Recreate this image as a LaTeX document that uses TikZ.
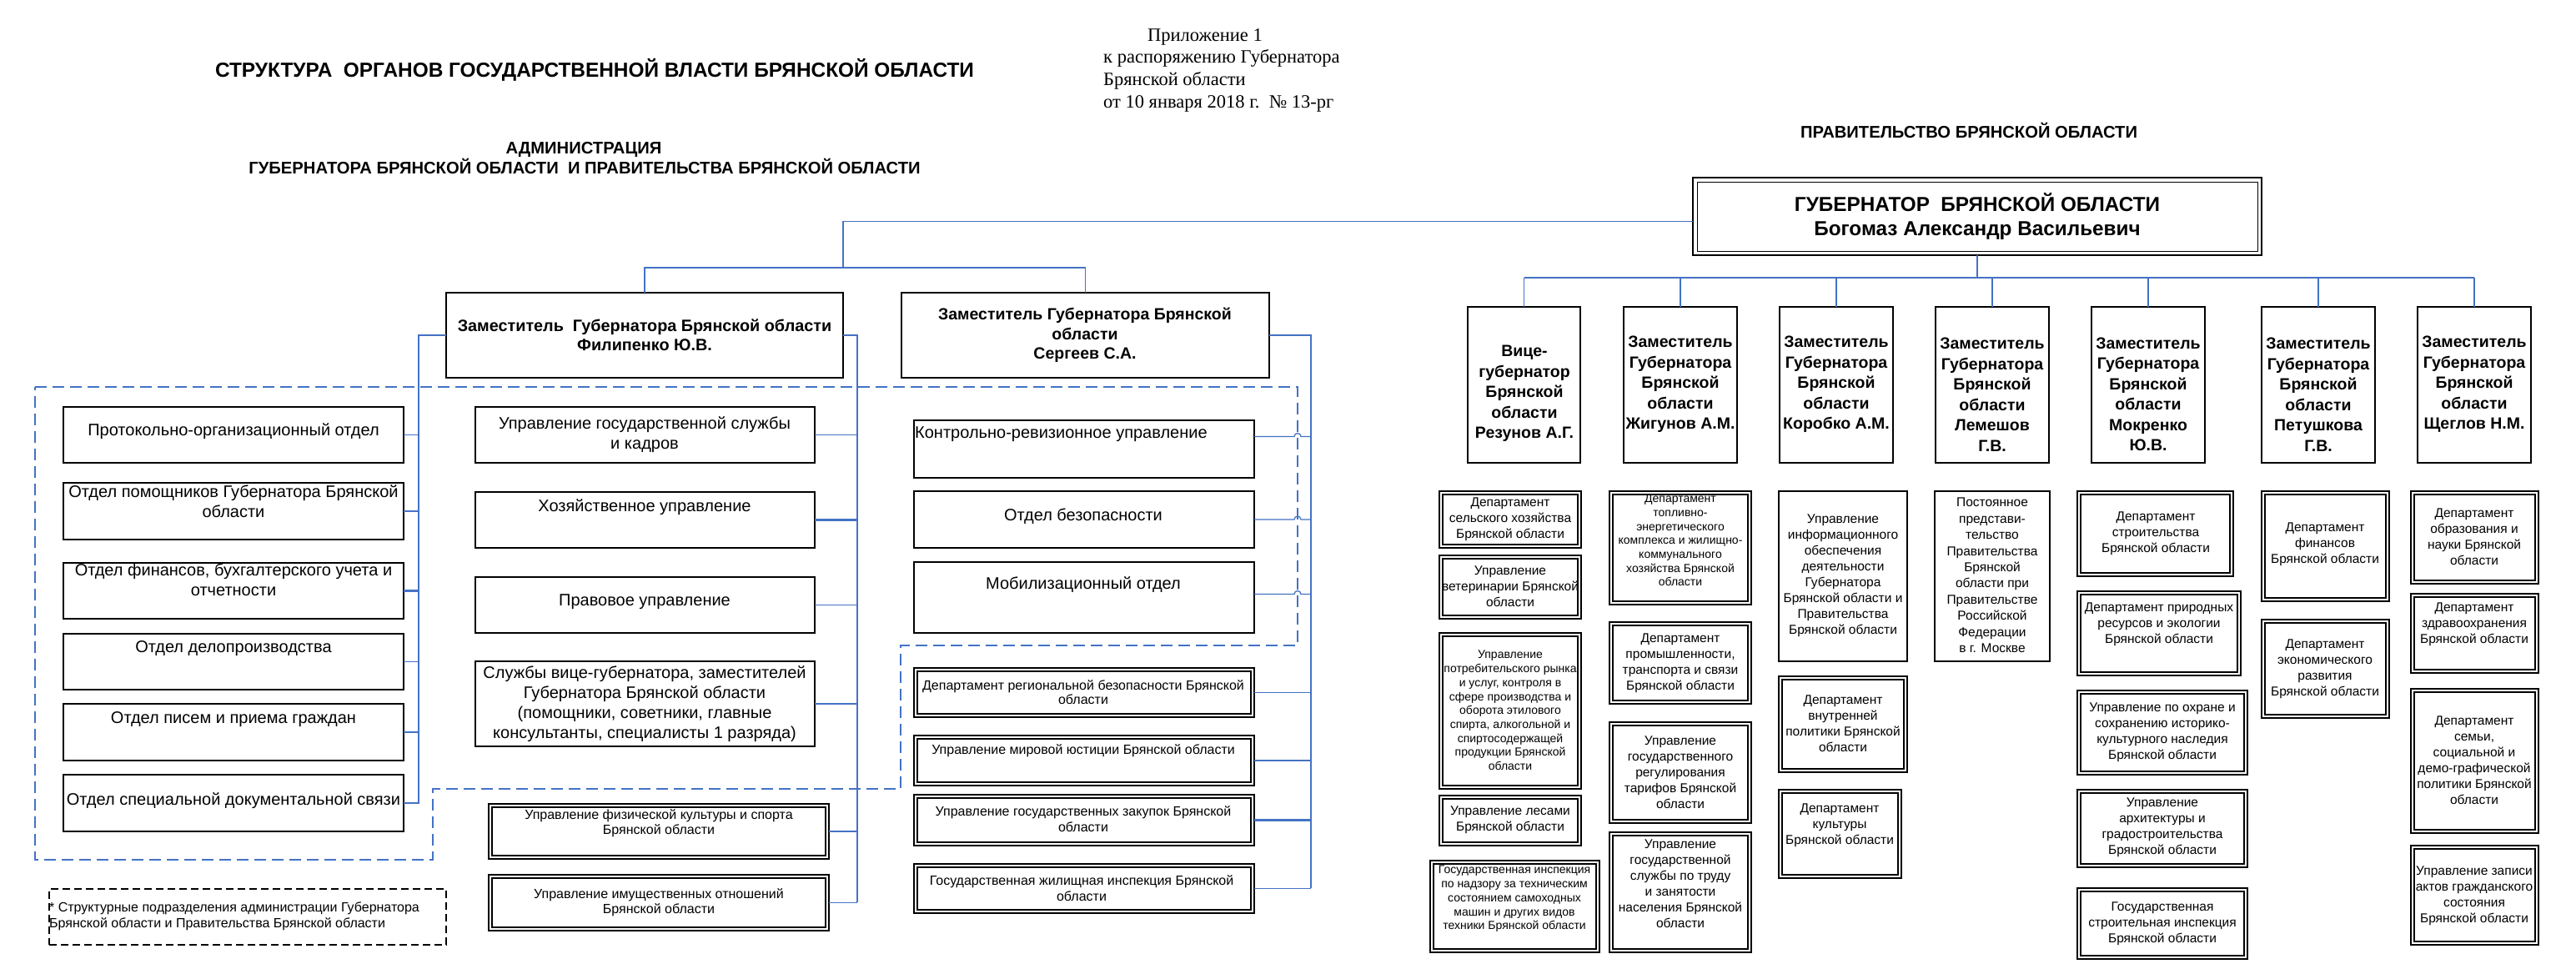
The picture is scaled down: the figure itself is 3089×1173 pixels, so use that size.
\documentclass[tikz,border=0pt]{standalone}
\usepackage{fontspec}
\setmainfont{Liberation Sans}
\newfontfamily\serifru{Liberation Serif}
\usetikzlibrary{fit,calc}
\definecolor{lnk}{HTML}{4472C4}
\newcommand\fsz[2]{\fontsize{#1}{#2}\selectfont}
\tikzset{
  box/.style={draw=black, line width=1.6pt, inner sep=0pt, outer sep=0pt},
  dbox/.style={box, line width=1.4pt, path picture={\draw[line width=2.6pt] ([shift={(4pt,-4pt)}]path picture bounding box.north west) rectangle ([shift={(-4pt,4pt)}]path picture bounding box.south east);}},
  gbox/.style={box, line width=2.6pt, path picture={\draw[line width=1pt] ([shift={(5pt,-5pt)}]path picture bounding box.north west) rectangle ([shift={(-5pt,5pt)}]path picture bounding box.south east);}},
  txt/.style={inner sep=0pt, align=center, text=black},
  one/.style={text height=0.72em, text depth=0.2em},
  conn/.style={draw=lnk, line width=1.3pt},
  connb/.style={draw=lnk, line width=2.6pt},
  dashline/.style={draw=lnk, line width=1.3pt, dash pattern=on 14pt off 7pt},
  hd/.style={txt, font=\bfseries\fsz{20.2}{24}},
  admL/.style={txt, font=\fsz{20}{24}},
  small/.style={txt, font=\fsz{16}{18.5}},
  dep/.style={txt, font=\fsz{15.5}{19}},
  depS/.style={txt, font=\fsz{14}{16.7}},
  dept/.style={txt, font=\bfseries\fsz{19.5}{24.5}},
  appx/.style={txt, one, font=\serifru\fsz{22.5}{27}},
}
\begin{document}
\begin{tikzpicture}[x=1pt,y=-1pt]
\fill[white] (0,0) rectangle (3089,1173);
\useasboundingbox (0,0) rectangle (3089,1173);

% ---------- headings ----------
\node[txt, one, font=\bfseries\fsz{24.4}{28}] (title) at (713,90) {СТРУКТУРА\ \ ОРГАНОВ ГОСУДАРСТВЕННОЙ ВЛАСТИ БРЯНСКОЙ ОБЛАСТИ};
\node[appx] (app1) at (1445,47) {Приложение 1};
\node[appx, anchor=west] (app2) at (1323,73) {к распоряжению Губернатора};
\node[appx, anchor=west] (app3) at (1323,100) {Брянской области};
\node[appx, anchor=west] (app4) at (1323,127) {от 10 января 2018 г.\ \ №\ 13-рг};
\node[hd, one] (adm1) at (700,182) {АДМИНИСТРАЦИЯ};
\node[hd, one] (adm2) at (701,206) {ГУБЕРНАТОРА БРЯНСКОЙ ОБЛАСТИ\ \ И ПРАВИТЕЛЬСТВА БРЯНСКОЙ ОБЛАСТИ};
\node[hd, one] (prav) at (2361,163) {ПРАВИТЕЛЬСТВО БРЯНСКОЙ ОБЛАСТИ};

% ---------- dashed outline of administration ----------
\draw[dashline] (42,464) -- (1556,464) -- (1556,774) -- (1080,774) -- (1080,946) -- (519,946) -- (519,1031) -- (42,1031) -- cycle;

% ---------- governor ----------
\node[gbox, fit={(2030,213) (2712,306)}] (gov) {};
\node[txt, font=\bfseries\fsz{24.3}{29}] (govt) at (2371,260) {ГУБЕРНАТОР\ \ БРЯНСКОЙ ОБЛАСТИ\\Богомаз Александр Васильевич};

% ---------- administration deputies ----------
\node[box, line width=2pt, fit={(535,351) (1011,453)}] (fil) {};
\node[txt, font=\bfseries\fsz{19.8}{23}] (filt) at (773,402) {Заместитель\ \ Губернатора Брянской области\\Филипенко Ю.В.};
\node[box, line width=2pt, fit={(1081,351) (1522,453)}] (ser) {};
\node[txt, font=\bfseries\fsz{19.5}{23.5}] (sert) at (1301,402) {Заместитель Губернатора Брянской\\области\\Сергеев С.А.};

% ---------- left column ----------
\node[box, fit={(76,488) (484,555)}] (lA) {};
\node[admL, one] (lAt) at (280,520) {Протокольно-организационный отдел};
\node[box, fit={(76,579) (484,647)}] (lB) {};
\node[admL] (lBt) at (280,601) {Отдел помощников Губернатора Брянской\\области};
\node[box, fit={(76,675) (484,742)}] (lC) {};
\node[admL] (lCt) at (280,695) {Отдел финансов, бухгалтерского учета и\\отчетности};
\node[box, fit={(76,760) (484,827)}] (lD) {};
\node[admL, one] (lDt) at (280,780) {Отдел делопроизводства};
\node[box, fit={(76,844) (484,912)}] (lE) {};
\node[admL, one] (lEt) at (280,865) {Отдел писем и приема граждан};
\node[box, fit={(76,929) (484,997)}] (lF) {};
\node[admL, one] (lFt) at (280,963) {Отдел специальной документальной связи};

% ---------- middle column ----------
\node[box, fit={(570,488) (977,555)}] (mA) {};
\node[admL] (mAt) at (773,521) {Управление государственной службы\\и кадров};
\node[box, fit={(570,590) (977,657)}] (mB) {};
\node[admL, one] (mBt) at (773,611) {Хозяйственное управление};
\node[box, fit={(570,692) (977,759)}] (mC) {};
\node[admL, one] (mCt) at (773,724) {Правовое управление};
\node[box, fit={(570,793) (977,895)}] (mD) {};
\node[admL] (mDt) at (773,844) {Службы вице-губернатора, заместителей\\Губернатора Брянской области\\(помощники, советники, главные\\консультанты, специалисты 1 разряда)};
\node[dbox, fit={(586,964) (994,1030)}] (mE) {};
\node[small] (mEt) at (790,987) {Управление физической культуры и спорта\\Брянской области};
\node[dbox, fit={(586,1049) (994,1116)}] (mF) {};
\node[small] (mFt) at (790,1082) {Управление имущественных отношений\\Брянской области};

% ---------- Sergeev column ----------
\node[box, fit={(1096,504) (1504,573)}] (sA) {};
\node[admL, one, anchor=west] (sAt) at (1097,523) {Контрольно-ревизионное управление};
\node[box, fit={(1096,589) (1504,657)}] (sB) {};
\node[admL, one] (sBt) at (1299,622) {Отдел безопасности};
\node[box, fit={(1096,674) (1504,759)}] (sC) {};
\node[admL, one] (sCt) at (1299,704) {Мобилизационный отдел};
\node[dbox, fit={(1096,801) (1504,860)}] (sD) {};
\node[small, font=\fsz{16}{17.5}] (sDt) at (1299,830) {Департамент региональной безопасности Брянской\\области};
\node[dbox, fit={(1096,882) (1504,942)}] (sE) {};
\node[small, one] (sEt) at (1299,902) {Управление мировой юстиции Брянской области};
\node[dbox, fit={(1096,953) (1504,1014)}] (sF) {};
\node[small] (sFt) at (1299,982) {Управление государственных закупок Брянской\\области};
\node[dbox, fit={(1096,1036) (1504,1095)}] (sG) {};
\node[small] (sGt) at (1297,1065) {Государственная жилищная инспекция Брянской\\области};

% ---------- footnote ----------
\node[draw=black, line width=1.4pt, dash pattern=on 9pt off 5pt, inner sep=0pt, fit={(59,1066) (535,1133)}] (fn) {};
\node[small, align=left, anchor=west] (fnt) at (59,1099) {* Структурные подразделения администрации Губернатора\\Брянской области и Правительства Брянской области};

% ---------- connectors: administration ----------
\coordinate (jA) at (1011,321);
\draw[conn] ([yshift=-6pt]gov.west) -| (jA);
\draw[conn] (fil.north) |- (ser.north |- jA) -- (ser.north);

\coordinate (lbus) at (502,964);
\draw[conn] (fil.west) -| (lbus);
\foreach \n in {lA,lB,lD,lE,lF} \draw[conn] (\n.east) -- (\n.east -| lbus);
\draw[connb] (lC.east) -- (lC.east -| lbus);

\coordinate (mbus) at (1028,1082);
\draw[conn] (fil.east) -| (mbus);
\foreach \n in {mA,mC,mD,mE,mF} \draw[conn] (\n.east) -- (\n.east -| mbus);
\draw[connb] (mB.east) -- (mB.east -| mbus);

\coordinate (sbus) at (1572,1065);
\draw[conn] (ser.east) -| (sbus);
\draw[conn] ([yshift=15pt]sA.east) -- ++(48,0) arc[start angle=180,end angle=0,radius=4pt] -- ++(12,0);
\draw[conn] (sB.east) -- ++(48,0) arc[start angle=180,end angle=0,radius=4pt] -- ++(12,0);
\draw[conn] ([yshift=4pt]sC.east) -- ++(48,0) arc[start angle=180,end angle=0,radius=4pt] -- ++(12,0);
\foreach \n in {sD,sE,sG} \draw[conn] (\n.east) -- (\n.east -| sbus);
\draw[connb] (sF.east) -- (sF.east -| sbus);

% ---------- government deputies ----------
\node[box, line width=2pt, fit={(1760,368) (1895,555)}] (d1) {};
\node[dept] (d1t) at (1828,472) {Вице-\\губернатор\\Брянской\\области\\Резунов А.Г.};
\node[box, line width=2pt, fit={(1947,368) (2083,555)}] (d2) {};
\node[dept] (d2t) at (2015,461) {Заместитель\\Губернатора\\Брянской\\области\\Жигунов А.М.};
\node[box, line width=2pt, fit={(2134,368) (2270,555)}] (d3) {};
\node[dept] (d3t) at (2202,461) {Заместитель\\Губернатора\\Брянской\\области\\Коробко А.М.};
\node[box, line width=2pt, fit={(2321,368) (2457,555)}] (d4) {};
\node[dept] (d4t) at (2389,473) {Заместитель\\Губернатора\\Брянской\\области\\Лемешов\\Г.В.};
\node[box, line width=2pt, fit={(2508,368) (2644,555)}] (d5) {};
\node[dept] (d5t) at (2576,473) {Заместитель\\Губернатора\\Брянской\\области\\Мокренко\\Ю.В.};
\node[box, line width=2pt, fit={(2712,368) (2848,555)}] (d6) {};
\node[dept] (d6t) at (2780,473) {Заместитель\\Губернатора\\Брянской\\области\\Петушкова\\Г.В.};
\node[box, line width=2pt, fit={(2899,368) (3035,555)}] (d7) {};
\node[dept] (d7t) at (2967,461) {Заместитель\\Губернатора\\Брянской\\области\\Щеглов Н.М.};

\coordinate (gbus) at (2371,333);
\draw[conn] (gov.south) -- (gbus);
\draw[conn, line width=2.2pt] (d1.north |- gbus) -- (d7.north |- gbus);
\foreach \d in {d1,d2,d3,d4,d5,d6,d7} \draw[conn] (\d.north) -- (\d.north |- gbus);

% ---------- departments: column 1 ----------
\node[dbox, fit={(1726,589) (1896,657)}] (c1a) {};
\node[dep] (c1at) at (1811,623) {Департамент\\сельского хозяйства\\Брянской области};
\node[dbox, fit={(1726,666) (1896,742)}] (c1b) {};
\node[dep] (c1bt) at (1811,703) {Управление\\ветеринарии Брянской\\области};
\node[dbox, fit={(1726,759) (1896,946)}] (c1c) {};
\node[depS] (c1ct) at (1811,852) {Управление\\потребительского рынка\\и услуг, контроля в\\сфере производства и\\оборота этилового\\спирта, алкогольной и\\спиртосодержащей\\продукции Брянской\\области};
\node[dbox, fit={(1726,954) (1896,1014)}] (c1d) {};
\node[dep] (c1dt) at (1811,983) {Управление лесами\\Брянской области};
\node[dbox, fit={(1715,1032) (1918,1142)}] (c1e) {};
\node[depS] (c1et) at (1816,1078) {Государственная инспекция\\по надзору за техническим\\состоянием самоходных\\машин и других видов\\техники Брянской области};

% ---------- column 2 ----------
\node[dbox, fit={(1930,589) (2100,725)}] (c2a) {};
\node[depS] (c2at) at (2015,648) {Департамент\\топливно-\\энергетического\\комплекса и жилищно-\\коммунального\\хозяйства Брянской\\области};
\node[dbox, fit={(1930,746) (2100,844)}] (c2b) {};
\node[dep] (c2bt) at (2015,795) {Департамент\\промышленности,\\транспорта и связи\\Брянской области};
\node[dbox, fit={(1930,866) (2100,987)}] (c2c) {};
\node[dep] (c2ct) at (2015,926) {Управление\\государственного\\регулирования\\тарифов Брянской\\области};
\node[dbox, fit={(1930,998) (2100,1142)}] (c2d) {};
\node[dep] (c2dt) at (2015,1060) {Управление\\государственной\\службы по труду\\и занятости\\населения Брянской\\области};

% ---------- column 3 ----------
\node[box, line width=2pt, fit={(2133,589) (2287,793)}] (c3a) {};
\node[dep] (c3at) at (2210,690) {Управление\\информационного\\обеспечения\\деятельности\\Губернатора\\Брянской области и\\Правительства\\Брянской области};
\node[dbox, fit={(2133,811) (2287,926)}] (c3b) {};
\node[dep] (c3bt) at (2210,868) {Департамент\\внутренней\\политики Брянской\\области};
\node[dbox, fit={(2133,947) (2280,1053)}] (c3c) {};
\node[dep] (c3ct) at (2206,990) {Департамент\\культуры\\Брянской области};

% ---------- column 4 ----------
\node[box, line width=2pt, fit={(2320,589) (2458,793)}] (c4a) {};
\node[dep, font=\fsz{15.5}{19.4}] (c4at) at (2389,690) {Постоянное\\представи-\\тельство\\Правительства\\Брянской\\области при\\Правительстве\\Российской\\Федерации\\в г. Москве};

% ---------- column 5 ----------
\node[dbox, fit={(2491,589) (2678,691)}] (c5a) {};
\node[dep] (c5at) at (2585,640) {Департамент\\строительства\\Брянской области};
\node[dbox, fit={(2491,709) (2687,810)}] (c5b) {};
\node[dep] (c5bt) at (2589,749) {Департамент природных\\ресурсов и экологии\\Брянской области};
\node[dbox, fit={(2491,828) (2695,929)}] (c5c) {};
\node[dep] (c5ct) at (2593,878) {Управление по охране и\\сохранению историко-\\культурного наследия\\Брянской области};
\node[dbox, fit={(2491,947) (2695,1040)}] (c5d) {};
\node[dep] (c5dt) at (2593,992) {Управление\\архитектуры и\\градостроительства\\Брянской области};
\node[dbox, fit={(2491,1065) (2695,1150)}] (c5e) {};
\node[dep] (c5et) at (2593,1108) {Государственная\\строительная инспекция\\Брянской области};

% ---------- column 6 ----------
\node[dbox, fit={(2712,589) (2865,721)}] (c6a) {};
\node[dep] (c6at) at (2788,653) {Департамент\\финансов\\Брянской области};
\node[dbox, fit={(2712,743) (2865,861)}] (c6b) {};
\node[dep] (c6bt) at (2788,802) {Департамент\\экономического\\развития\\Брянской области};

% ---------- column 7 ----------
\node[dbox, fit={(2891,589) (3044,700)}] (c7a) {};
\node[dep] (c7at) at (2967,644) {Департамент\\образования и\\науки Брянской\\области};
\node[dbox, fit={(2891,712) (3044,807)}] (c7b) {};
\node[dep] (c7bt) at (2967,749) {Департамент\\здравоохранения\\Брянской области};
\node[dbox, fit={(2891,826) (3044,999)}] (c7c) {};
\node[dep] (c7ct) at (2967,912) {Департамент\\семьи,\\социальной и\\демо-графической\\политики Брянской\\области};
\node[dbox, fit={(2891,1014) (3044,1133)}] (c7d) {};
\node[dep] (c7dt) at (2967,1074) {Управление записи\\актов гражданского\\состояния\\Брянской области};
\end{tikzpicture}
\end{document}
